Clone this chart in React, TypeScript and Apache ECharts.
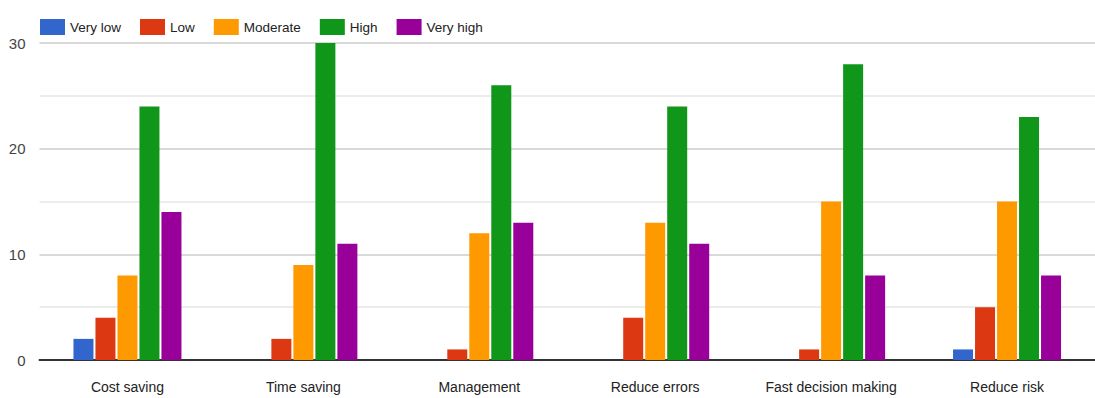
import React, { useEffect, useRef } from "react";
import * as echarts from "echarts";

const categories = ["Cost saving", "Time saving", "Management", "Reduce errors", "Fast decision making", "Reduce risk"];
const seriesNames = ["Very low", "Low", "Moderate", "High", "Very high"];
const veryLow = [2, 0, 0, 0, 0, 1];
const low = [4, 2, 1, 4, 1, 5];
const moderate = [8, 9, 12, 13, 15, 15];
const high = [24, 30, 26, 24, 28, 23];
const veryHigh = [14, 11, 13, 11, 8, 8];
const colors = ["#3366cc", "#dc3912", "#ff9900", "#109618", "#990099"];

const FONT = "'Liberation Sans', Arial, sans-serif";

export default function App() {
  const ref = useRef<HTMLDivElement>(null);
  useEffect(() => {
    if (!ref.current) return;
    const chart = echarts.init(ref.current, undefined, { renderer: "svg" });
    const data = [veryLow, low, moderate, high, veryHigh];
    chart.setOption({
      animation: false,
      color: colors,
      textStyle: { fontFamily: FONT },
      legend: {
        left: 35,
        top: 14,
        itemWidth: 25,
        itemHeight: 16,
        itemGap: 19,
        icon: "rect",
        textStyle: { fontFamily: FONT, fontSize: 13.5, color: "#222" },
        data: seriesNames,
      },
      grid: { left: 39.5, right: -7, top: 43, bottom: 38 },
      xAxis: {
        type: "category",
        data: categories,
        axisTick: { show: false },
        axisLine: { lineStyle: { color: "#333", width: 2 } },
        axisLabel: { fontFamily: FONT, fontSize: 14, color: "#222", margin: 20, interval: 0 },
      },
      yAxis: {
        type: "value",
        min: 0,
        max: 30,
        interval: 10,
        axisLine: { show: false },
        axisTick: { show: false },
        axisLabel: { fontFamily: FONT, fontSize: 15, color: "#444", margin: 14 },
        splitLine: { lineStyle: { color: "#cccccc", width: 1.5 } },
        minorTick: { show: false, splitNumber: 2 },
        minorSplitLine: { show: true, lineStyle: { color: "#e6e6e6", width: 1.5 } },
      },
      series: seriesNames.map((name, i) => ({
        name,
        type: "bar",
        data: data[i],
        barWidth: 20,
        barGap: "10%",
      })),
    });
    return () => chart.dispose();
  }, []);
  return (
    <div
      ref={ref}
      style={{ position: "absolute", left: 0, top: 0, width: 1095, height: 398, background: "#fff" }}
    />
  );
}
